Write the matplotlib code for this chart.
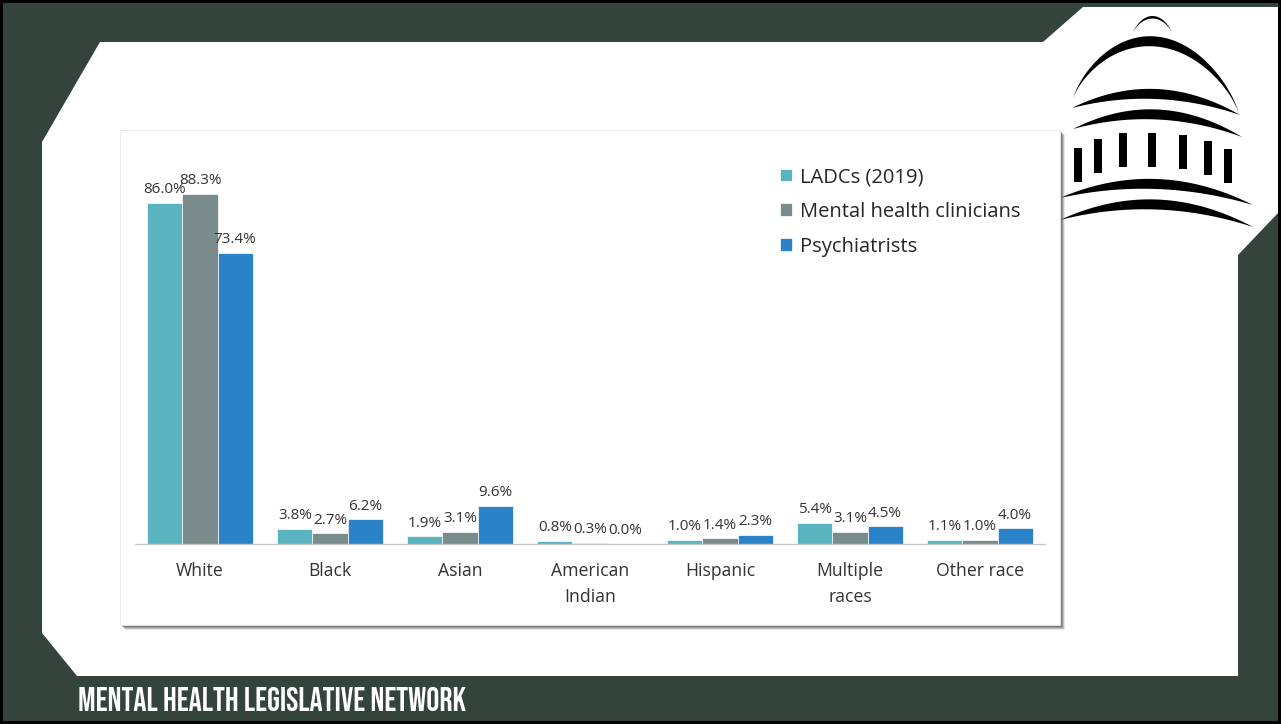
import matplotlib
matplotlib.use("Agg")
import matplotlib.pyplot as plt
import numpy as np
from matplotlib.patches import Polygon, Rectangle
from matplotlib import font_manager as fm

# ---------------- data ----------------
categories = ["White", "Black", "Asian", "American\nIndian", "Hispanic", "Multiple\nraces", "Other race"]
series_names = ["LADCs (2019)", "Mental health clinicians", "Psychiatrists"]
ladcs = [86.0, 3.8, 1.9, 0.8, 1.0, 5.4, 1.1]
mh_clinicians = [88.3, 2.7, 3.1, 0.3, 1.4, 3.1, 1.0]
psychiatrists = [73.4, 6.2, 9.6, 0.0, 2.3, 4.5, 4.0]
colors = ["#59b4c0", "#7a8b8c", "#2a82c8"]
footer = "MENTAL HEALTH LEGISLATIVE NETWORK"

W, H = 1281, 724
DARK = "#34443c"
TXT = "#333333"
FONT = "Open Sans"

fig = plt.figure(figsize=(W / 100, H / 100), dpi=100)
fig.patch.set_facecolor("black")

# ---------- background (pixel coordinates, y down) ----------
bg = fig.add_axes([0, 0, 1, 1], zorder=0)
bg.set_xlim(0, W)
bg.set_ylim(H, 0)
bg.axis("off")
bg.add_patch(Rectangle((3, 3), W - 6, H - 6, facecolor=DARK, edgecolor="none"))
white_poly = [(100, 42), (1043, 42), (1083, 7), (1278, 7), (1278, 213), (1238, 255),
              (1238, 676), (77, 676), (42, 633), (42, 142)]
bg.add_patch(Polygon(white_poly, closed=True, facecolor="white", edgecolor="none"))


def crescent(ax, x0, y0, x1, y1, h, thick, p=1.0, n=100):
    t = np.linspace(0, 1, n)
    xs = x0 + (x1 - x0) * t
    base = y0 + (y1 - y0) * t
    bump = (4 * t * (1 - t)) ** p
    top = base - h * bump
    bot = base - (h - thick) * bump
    pts = np.vstack([np.column_stack([xs, top]), np.column_stack([xs[::-1], bot[::-1]])])
    ax.add_patch(Polygon(pts, closed=True, facecolor="black", edgecolor="none"))


# capitol logo
crescent(bg, 1133, 33, 1172, 33, 17, 2.5, p=0.8)
crescent(bg, 1073, 100, 1239, 115, 71, 10, p=0.75)
crescent(bg, 1072, 108, 1240, 115, 22.5, 10)
crescent(bg, 1073, 129, 1242, 137, 23.5, 10)
crescent(bg, 1060, 198, 1253, 205, 22.5, 10)
crescent(bg, 1060, 220, 1253, 227, 24, 10)
col_x = [1078, 1098, 1123, 1152, 1183, 1208, 1228]
col_top = [148, 139, 133, 133, 135, 141, 149]
for cx, ct in zip(col_x, col_top):
    bg.add_patch(Rectangle((cx - 3.7, ct), 7.4, 34, facecolor="black", edgecolor="none"))

# chart panel with shadow
for off, a in [(5, 0.15), (4, 0.25), (3, 0.35), (2, 0.45)]:
    bg.add_patch(Rectangle((120 + off, 130 + off), 940, 495, facecolor="#555555",
                           alpha=a, edgecolor="none"))
bg.add_patch(Rectangle((120, 130), 940, 495, facecolor="white", edgecolor="#e8e8e8", lw=0.6))

# ---------------- chart ----------------
left_px, right_px, base_px, top_px = 135, 1045, 544, 147.5
ax = fig.add_axes([left_px / W, (H - base_px) / H, (right_px - left_px) / W,
                   (base_px - top_px) / H], zorder=1)
ax.patch.set_alpha(0)
x = np.arange(len(categories))
bw = 0.27
for i, (vals, name, c) in enumerate(zip([ladcs, mh_clinicians, psychiatrists], series_names, colors)):
    bars = ax.bar(x + (i - 1) * bw, vals, bw, color=c, label=name, edgecolor="white", linewidth=0.5)
    ax.bar_label(bars, labels=[f"{v:.1f}%" for v in vals], padding=4,
                 fontsize=11, color=TXT, family=FONT)

ax.set_xlim(-0.5, len(categories) - 0.5)
ax.set_ylim(0, 100)
ax.set_yticks([])
ax.set_xticks(x)
ax.set_xticklabels(categories, fontsize=12.7, color=TXT, family=FONT, linespacing=1.55)
ax.tick_params(axis="x", length=0, pad=13)
for s in ["top", "right", "left"]:
    ax.spines[s].set_visible(False)
ax.spines["bottom"].set_color("#c8c8c8")
ax.spines["bottom"].set_linewidth(1.0)

leg = ax.legend(loc="upper left", bbox_to_anchor=(780 / W, 1 - 167 / H),
                bbox_transform=fig.transFigure, frameon=False,
                prop={"family": FONT, "size": 14.5}, handlelength=0.6, handleheight=0.6,
                handletextpad=0.4, labelspacing=0.74, borderaxespad=0, borderpad=0)
for t in leg.get_texts():
    t.set_color("#262626")

# footer: pick a condensed bold face if available, then fit to reference width
cands = [("Bebas Neue", "normal"), ("Oswald", "normal"), ("Roboto Condensed", "normal"),
         ("Liberation Sans Narrow", "normal"), ("DejaVu Sans", "condensed"),
         ("Noto Sans", "extra-condensed"), ("Noto Sans", "condensed"),
         ("Roboto", "condensed"), ("Open Sans", "condensed")]
fam, stretch = "DejaVu Sans", "normal"
for f, s in cands:
    try:
        path = fm.findfont(fm.FontProperties(family=f, stretch=s, weight="bold"),
                           fallback_to_default=False)
    except Exception:
        continue
    name = path.lower()
    if any(k in name for k in ["bebas", "oswald", "condensed", "narrow", "cond"]):
        fam, stretch = f, s
        break
ft = fig.text(78 / W, 1 - 711 / H, footer, color="white", fontsize=20, fontweight="bold",
              family=fam, fontstretch=stretch, va="baseline", ha="left")
fig.canvas.draw()
wpx = ft.get_window_extent().width
ft.set_fontsize(20 * 387 / wpx)

fig.savefig("out.png", dpi=100, facecolor=fig.get_facecolor())
